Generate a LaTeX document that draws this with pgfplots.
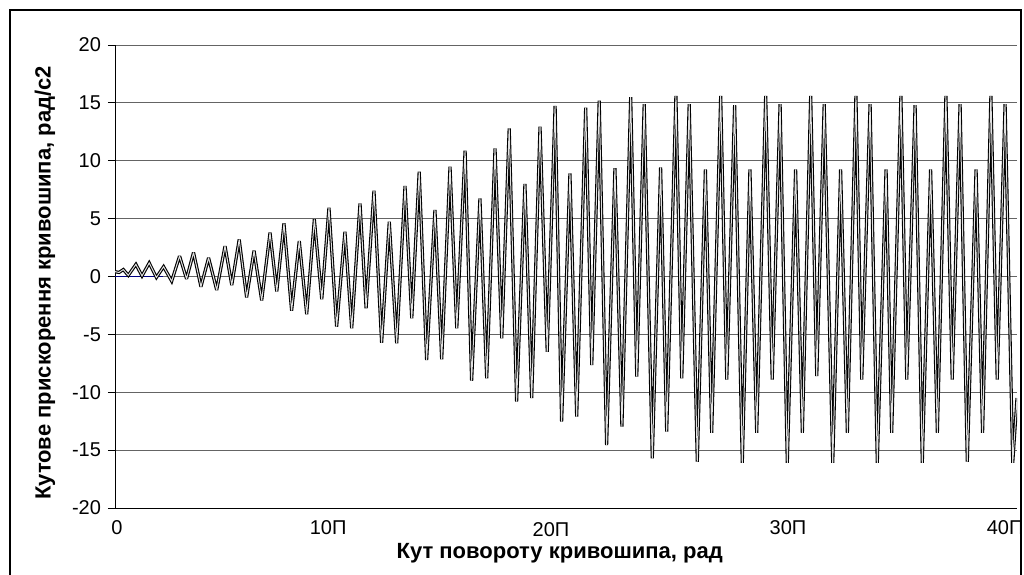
\documentclass[border=0pt]{standalone}
\usepackage{fontspec}
\setmainfont{Liberation Sans}
\usepackage{pgfplots}
\pgfplotsset{compat=1.18}

\definecolor{gridc}{RGB}{100,100,100}
\definecolor{navyline}{RGB}{0,0,128}

\begin{document}
\begin{tikzpicture}
\useasboundingbox (0,0) rectangle (512pt,-287pt);
\draw[line width=1pt] (5pt,-5pt) rectangle (510.5pt,-300pt);
\begin{axis}[
  at={(57.5pt,-254pt)}, anchor=south west,
  scale only axis, width=451pt, height=231.5pt,
  xmin=0, xmax=40.09, ymin=-20, ymax=20,
  axis lines*=left,
  axis line style={black, line width=0.5pt},
  ytick={-20,-15,...,20},
  xtick={0.09,9.47,29.91,39.56},
  xticklabels={0,10П,30П,40П},
  extra x ticks={19.38},
  extra x tick labels={20П},
  extra x tick style={tick style={draw=none}, tick label style={yshift=-1.1pt}},
  x tick style={draw=none},
  y tick style={black, line width=0.5pt},
  tick align=outside, major tick length=3.5pt,
  ymajorgrids, grid style={gridc, line width=0.5pt},
  /pgf/number format/assume math mode=true,
  tick label style={font=\fontsize{10}{12}\selectfont},
  xticklabel style={yshift=1pt},
  xlabel={Кут повороту кривошипа, рад},
  ylabel={Кутове прискорення кривошипа, рад/с2},
  label style={font=\bfseries\fontsize{11}{13}\selectfont},
  xlabel style={at={(axis description cs:0.493,-0.097)}, anchor=center},
  ylabel style={at={(axis description cs:-0.0776,0.486)}, anchor=center, rotate=0},
  clip=true,
]
\addplot[navyline, line width=0.75pt, forget plot] coordinates {(0,0) (2.13,0)};
\addplot[draw=black, line width=0.55pt, double=black!12, double distance=0.5pt, line join=miter, miter limit=3] coordinates {
(0,0.42) (0.18,0.35) (0.37,0.6) (0.59,0.1) (0.93,1.05) (1.2,0.05) (1.52,1.17) (1.84,-0.08)
(2.16,0.85) (2.52,-0.4) (2.87,1.77) (3.18,-0.2) (3.49,2.08) (3.82,-0.88)
(4.16,1.62) (4.52,-1.17) (4.89,2.63) (5.19,-0.74) (5.52,3.2) (5.85,-1.8)
(6.18,2.23) (6.52,-2.06) (6.89,3.79) (7.19,-1.3) (7.51,4.59) (7.85,-2.95)
(8.19,3.07) (8.52,-3.25) (8.86,4.94) (9.19,-1.97) (9.51,5.95) (9.85,-4.33)
(10.22,3.87) (10.52,-4.48) (10.89,6.32) (11.16,-2.75) (11.51,7.42) (11.85,-5.72)
(12.19,4.74) (12.52,-5.77) (12.89,7.82) (13.19,-3.61) (13.52,9.06) (13.85,-7.21)
(14.22,5.75) (14.52,-7.16) (14.89,9.49) (15.19,-4.48) (15.56,10.87) (15.85,-9.0)
(16.22,6.75) (16.52,-8.8) (16.89,11.07) (17.19,-5.34) (17.52,12.8) (17.85,-10.8)
(18.22,7.99) (18.52,-10.5) (18.89,12.94) (19.21,-6.5) (19.56,14.73) (19.85,-12.54)
(20.22,8.91) (20.52,-12.1) (20.92,14.59) (21.19,-7.65) (21.52,15.19) (21.85,-14.56)
(22.22,9.35) (22.53,-12.97) (22.92,15.5) (23.19,-8.65) (23.52,14.9) (23.88,-15.7)
(24.25,9.43) (24.52,-13.4) (24.93,15.6) (25.19,-8.8) (25.52,14.9) (25.88,-16.0)
(26.24,9.26) (26.52,-13.5) (26.92,15.6) (27.19,-8.9) (27.54,14.8) (27.88,-16.1)
(28.22,9.26) (28.52,-13.5) (28.92,15.6) (29.21,-8.9) (29.56,14.9) (29.88,-16.1)
(30.25,9.26) (30.55,-13.5) (30.92,15.6) (31.19,-8.6) (31.52,14.9) (31.9,-16.1)
(32.25,9.26) (32.55,-13.5) (32.93,15.6) (33.19,-8.9) (33.56,14.9) (33.88,-16.1)
(34.27,9.26) (34.52,-13.5) (34.93,15.6) (35.19,-8.9) (35.56,14.8) (35.88,-16.1)
(36.25,9.26) (36.55,-13.5) (36.93,15.6) (37.21,-8.9) (37.56,14.9) (37.88,-16.0)
(38.27,9.26) (38.56,-13.5) (38.93,15.6) (39.21,-8.9) (39.56,14.9) (39.9,-16.1)
(40.09,-10.5)
};
\end{axis}
\end{tikzpicture}
\end{document}
